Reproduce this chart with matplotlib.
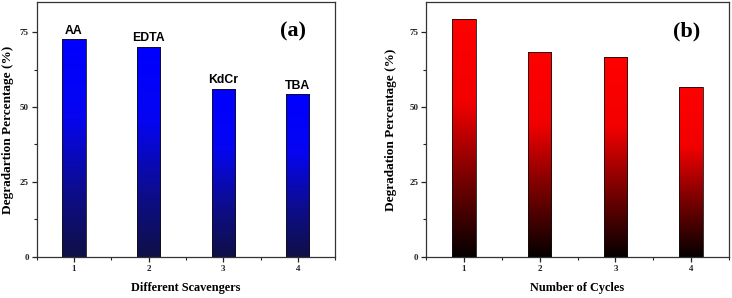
import matplotlib
matplotlib.use("Agg")
import matplotlib.pyplot as plt
import numpy as np
from matplotlib.colors import LinearSegmentedColormap
from matplotlib.ticker import MultipleLocator

# Data
scav_x = [1, 2, 3, 4]
scav_vals = [72.6, 70.1, 56.1, 54.3]
scav_labels = ["AA", "EDTA", "KdCr", "TBA"]
cycle_x = [1, 2, 3, 4]
cycle_vals = [79.4, 68.4, 66.7, 56.7]
yticks = [0, 25, 50, 75]

blue_cmap = LinearSegmentedColormap.from_list(
    "bl", [(0.0, (0.06, 0.06, 0.28)), (0.3, (0.05, 0.05, 0.55)), (0.65, (0.02, 0.02, 0.95)), (1.0, (0.0, 0.0, 1.0))])
red_cmap = LinearSegmentedColormap.from_list(
    "rd", [(0.0, (0.02, 0.0, 0.0)), (0.35, (0.5, 0.0, 0.0)), (0.65, (0.95, 0.0, 0.0)), (1.0, (1.0, 0.0, 0.0))])

serif = "Liberation Serif"
sans = "Liberation Sans"

fig = plt.figure(figsize=(7.32, 2.98), dpi=100)
ax1 = fig.add_axes([0.050, 0.138, 0.408, 0.855])
ax2 = fig.add_axes([0.582, 0.138, 0.414, 0.855])

def grad_bars(ax, xs, vals, cmap):
    bars = ax.bar(xs, vals, width=0.31, color="none", edgecolor="#111111", linewidth=0.6, zorder=3)
    grad = np.linspace(0, 1, 256).reshape(-1, 1)
    for b in bars:
        x0, y0 = b.get_x(), b.get_y()
        w, h = b.get_width(), b.get_height()
        im = ax.imshow(grad, cmap=cmap, origin="lower", aspect="auto",
                       extent=[x0, x0 + w, y0, y0 + h], zorder=2, interpolation="bilinear")
        im.set_clip_path(b)
    return bars

def style(ax, xlabel, ylabel, panel, ypad):
    ax.set_xlim(0.5, 4.5)
    ax.set_ylim(0, 85)
    ax.set_xticks([1, 2, 3, 4])
    ax.set_yticks(yticks)
    ax.xaxis.set_minor_locator(MultipleLocator(0.5))
    ax.yaxis.set_minor_locator(MultipleLocator(12.5))
    ax.tick_params(which="major", direction="out", length=3.5, width=0.9, labelsize=6.5, pad=2, colors="#222222")
    ax.tick_params(which="minor", direction="out", length=2, width=0.8, colors="#222222")
    for lab in ax.get_xticklabels() + ax.get_yticklabels():
        lab.set_fontfamily(serif)
        lab.set_fontweight("bold")
    for sp in ax.spines.values():
        sp.set_color("#333333")
        sp.set_linewidth(0.9)
    ax.set_xlabel(xlabel, fontfamily=serif, fontweight="bold", fontsize=8.8, labelpad=7)
    ax.set_ylabel(ylabel, fontfamily=serif, fontweight="bold", fontsize=9.5, labelpad=ypad)
    ax.text(0.86, 0.885, panel, transform=ax.transAxes, ha="center", va="center",
            fontfamily=serif, fontweight="bold", fontsize=16)

grad_bars(ax1, scav_x, scav_vals, blue_cmap)
for x, v, t in zip(scav_x, scav_vals, scav_labels):
    ax1.text(x, v + 0.8, t, ha="center", va="bottom", fontfamily=sans, fontweight="bold", fontsize=8.8)
style(ax1, "Different Scavengers", "Degradartion Percentage (%)", "(a)", 4)

grad_bars(ax2, cycle_x, cycle_vals, red_cmap)
style(ax2, "Number of Cycles", "Degradation Percentage (%)", "(b)", 9)

fig.savefig("out.png", dpi=100)
